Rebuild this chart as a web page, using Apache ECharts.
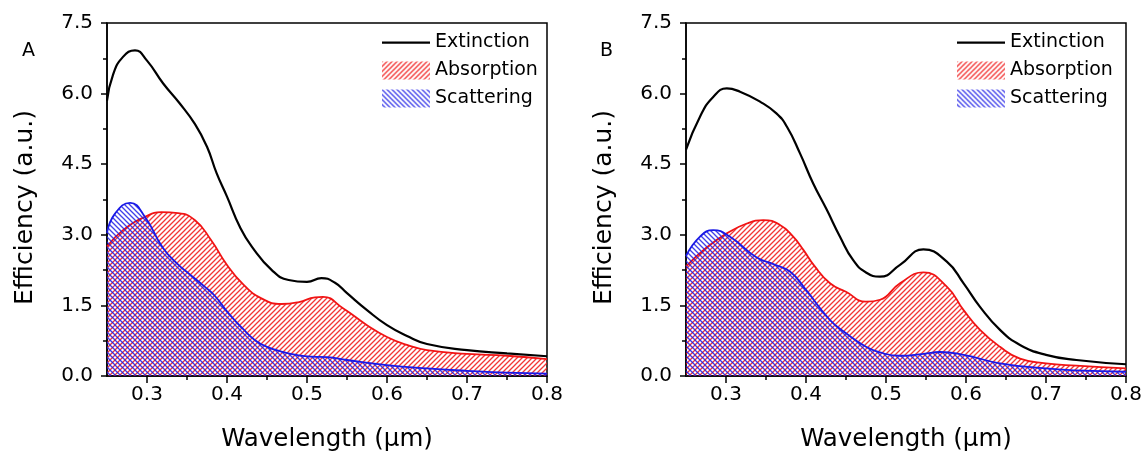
<!DOCTYPE html>
<html>
<head>
<meta charset="utf-8">
<script src="https://cdn.jsdelivr.net/npm/echarts@6/dist/echarts.min.js"></script>
<style>
  html, body { margin: 0; padding: 0; background: #fff; }
  #chart { width: 1145px; height: 457px; }
</style>
</head>
<body>
<div id="chart"></div>
<script>
// ---------- Data ----------
// Panel A
const extA_x = [0.25, 0.2575, 0.27, 0.285, 0.30, 0.32, 0.34, 0.36, 0.375, 0.387, 0.40, 0.416, 0.431, 0.456, 0.477, 0.50, 0.518, 0.535, 0.55, 0.575, 0.60, 0.625, 0.65, 0.70, 0.75, 0.80];
const extA_y = [5.85, 6.40, 6.78, 6.92, 6.70, 6.22, 5.81, 5.35, 4.87, 4.31, 3.81, 3.17, 2.75, 2.25, 2.04, 2.00, 2.08, 1.98, 1.76, 1.40, 1.08, 0.85, 0.68, 0.55, 0.48, 0.42];

const absA_x = [0.25, 0.27, 0.2975, 0.318, 0.339, 0.36, 0.38, 0.40, 0.42, 0.443, 0.468, 0.49, 0.51, 0.52, 0.545, 0.575, 0.60, 0.625, 0.65, 0.70, 0.75, 0.80];
const absA_y = [2.75, 3.10, 3.38, 3.48, 3.46, 3.31, 2.89, 2.36, 1.95, 1.65, 1.53, 1.57, 1.67, 1.68, 1.44, 1.08, 0.83, 0.66, 0.55, 0.47, 0.43, 0.36];

const scaA_x = [0.25, 0.26, 0.279, 0.2975, 0.32, 0.34, 0.352, 0.372, 0.385, 0.402, 0.42, 0.435, 0.45, 0.468, 0.49, 0.506, 0.525, 0.55, 0.60, 0.65, 0.70, 0.75, 0.80];
const scaA_y = [3.04, 3.45, 3.68, 3.38, 2.72, 2.35, 2.18, 1.90, 1.70, 1.33, 1.00, 0.76, 0.62, 0.52, 0.44, 0.41, 0.40, 0.34, 0.23, 0.16, 0.11, 0.07, 0.05];

// Panel B
const extB_x = [0.25, 0.2675, 0.284, 0.301, 0.3175, 0.3425, 0.363, 0.376, 0.3925, 0.409, 0.426, 0.4425, 0.459, 0.475, 0.4925, 0.5175, 0.5467, 0.576, 0.597, 0.6175, 0.6425, 0.6675, 0.70, 0.738, 0.80];
const extB_y = [4.81, 5.51, 5.93, 6.11, 6.04, 5.83, 5.58, 5.30, 4.73, 4.09, 3.53, 2.96, 2.46, 2.20, 2.11, 2.36, 2.69, 2.43, 1.97, 1.47, 0.98, 0.66, 0.45, 0.34, 0.25];

const absB_x = [0.25, 0.275, 0.301, 0.326, 0.3466, 0.3675, 0.384, 0.3967, 0.41, 0.43, 0.45, 0.475, 0.4925, 0.5175, 0.5467, 0.576, 0.597, 0.6175, 0.6425, 0.6675, 0.70, 0.738, 0.80];
const absB_y = [2.33, 2.72, 3.03, 3.24, 3.31, 3.21, 2.96, 2.68, 2.35, 1.97, 1.79, 1.58, 1.62, 1.97, 2.20, 1.90, 1.40, 0.98, 0.62, 0.37, 0.27, 0.22, 0.16];

const scaB_x = [0.25, 0.2675, 0.284, 0.305, 0.3375, 0.36, 0.38, 0.40, 0.43, 0.45, 0.475, 0.4925, 0.5175, 0.5467, 0.5675, 0.597, 0.6425, 0.70, 0.738, 0.80];
const scaB_y = [2.55, 2.96, 3.10, 2.96, 2.53, 2.37, 2.22, 1.83, 1.19, 0.91, 0.62, 0.50, 0.43, 0.47, 0.51, 0.45, 0.27, 0.16, 0.12, 0.09];

// Axis ticks / labels
const xMajorTicks = [0.3, 0.4, 0.5, 0.6, 0.7, 0.8];
const xMinorTicks = [0.35, 0.45, 0.55, 0.65, 0.75];
const seriesNames = ['Extinction', 'Absorption', 'Scattering'];
const panelLabels = ['A', 'B'];
const xTitle = 'Wavelength (μm)';
const yTitle = 'Efficiency (a.u.)';

// ---------- Styling ----------
const FONT = 'DejaVu Sans';
const RED = '#f01414';
const BLUE = '#1a1ae6';
const BLACK = '#000';

function hatch(color, forward) {
  const s = 5;
  const c = document.createElement('canvas');
  c.width = s; c.height = s;
  const g = c.getContext('2d');
  g.strokeStyle = color;
  g.lineWidth = 1.3;
  g.beginPath();
  if (forward) { // "/"
    g.moveTo(0, s); g.lineTo(s, 0);
    g.moveTo(-1, 1); g.lineTo(1, -1);
    g.moveTo(s - 1, s + 1); g.lineTo(s + 1, s - 1);
  } else { // "\"
    g.moveTo(0, 0); g.lineTo(s, s);
    g.moveTo(s - 1, -1); g.lineTo(s + 1, 1);
    g.moveTo(-1, s - 1); g.lineTo(1, s + 1);
  }
  g.stroke();
  return c;
}
const redPattern = { image: hatch('rgba(240,20,20,0.85)', true), repeat: 'repeat' };
const bluePattern = { image: hatch('rgba(30,30,230,0.85)', false), repeat: 'repeat' };

function pairs(xs, ys) { return xs.map((x, i) => [x, ys[i]]); }

const grids = [
  { left: 107, top: 23, width: 440, height: 353 },
  { left: 686, top: 23, width: 440, height: 353 }
];

const xAxes = [], yAxes = [], series = [], legends = [], titles = [];
const panels = [
  { ext: pairs(extA_x, extA_y), abs: pairs(absA_x, absA_y), sca: pairs(scaA_x, scaA_y), legendLeft: 382, labelLeft: 22 },
  { ext: pairs(extB_x, extB_y), abs: pairs(absB_x, absB_y), sca: pairs(scaB_x, scaB_y), legendLeft: 957, labelLeft: 600 }
];

panels.forEach((p, i) => {
  xAxes.push({
    gridIndex: i, type: 'value', min: 0.25, max: 0.8, position: 'bottom',
    axisLine: { show: true, onZero: false, lineStyle: { color: BLACK, width: 1.5 } },
    axisTick: { show: true, customValues: xMajorTicks, length: 7, lineStyle: { color: BLACK, width: 1.5 } },
    axisLabel: { show: true, customValues: xMajorTicks, formatter: v => v.toFixed(1), color: BLACK, fontSize: 20, fontFamily: FONT, margin: 9 },
    splitLine: { show: false },
    name: xTitle, nameLocation: 'middle', nameGap: 51,
    nameTextStyle: { fontFamily: FONT, fontSize: 24.5, color: BLACK }
  });
  xAxes.push({
    gridIndex: i, type: 'value', min: 0.25, max: 0.8, position: 'bottom', offset: 0,
    axisLine: { show: false },
    axisTick: { show: true, customValues: xMinorTicks, length: 4, lineStyle: { color: BLACK, width: 1.5 } },
    axisLabel: { show: false },
    splitLine: { show: false }
  });
  yAxes.push({
    gridIndex: i, type: 'value', min: 0, max: 7.5, interval: 1.5,
    axisLine: { show: true, lineStyle: { color: BLACK, width: 1.5 } },
    axisTick: { show: true, length: 6, lineStyle: { color: BLACK, width: 1.5 } },
    minorTick: { show: true, splitNumber: 2, length: 4, lineStyle: { color: BLACK, width: 1.5 } },
    axisLabel: { formatter: v => v.toFixed(1), color: BLACK, fontSize: 20, fontFamily: FONT, margin: 14 },
    splitLine: { show: false }, minorSplitLine: { show: false },
    name: yTitle, nameLocation: 'middle', nameGap: 69, nameRotate: 90,
    nameTextStyle: { fontFamily: FONT, fontSize: 25, color: BLACK, padding: [0, 16, 0, 0] }
  });
  const xi = i * 2;
  series.push({
    name: 'Absorption', type: 'line', xAxisIndex: xi, yAxisIndex: i, data: p.abs,
    smooth: 0.5, symbol: 'none', lineStyle: { color: RED, width: 1.8 }, itemStyle: { color: RED },
    areaStyle: { color: redPattern, opacity: 1 }, z: 2
  });
  series.push({
    name: 'Scattering', type: 'line', xAxisIndex: xi, yAxisIndex: i, data: p.sca,
    smooth: 0.5, symbol: 'none', lineStyle: { color: BLUE, width: 1.8 }, itemStyle: { color: BLUE },
    areaStyle: { color: bluePattern, opacity: 1 }, z: 3
  });
  series.push({
    name: 'Extinction', type: 'line', xAxisIndex: xi, yAxisIndex: i, data: p.ext,
    smooth: 0.5, symbol: 'none', lineStyle: { color: BLACK, width: 2.2 }, itemStyle: { color: BLACK }, z: 4
  });
  legends.push({
    left: p.legendLeft, top: 33, orient: 'vertical', padding: 0,
    itemWidth: 48, itemHeight: 18, itemGap: 9, selectedMode: false,
    textStyle: { fontFamily: FONT, fontSize: 19, color: BLACK },
    data: [
      { name: seriesNames[0], icon: 'path://M0,0M48,18M0,8H48V10.2H0Z', itemStyle: { color: BLACK, borderWidth: 0 } },
      { name: seriesNames[1], icon: 'rect', itemStyle: { color: redPattern, borderWidth: 0 } },
      { name: seriesNames[2], icon: 'rect', itemStyle: { color: bluePattern, borderWidth: 0 } }
    ]
  });
  titles.push({
    text: panelLabels[i], left: p.labelLeft, top: 42, padding: 0,
    textStyle: { fontFamily: FONT, fontSize: 19, fontWeight: 'normal', color: BLACK }
  });
});

const chart = echarts.init(document.getElementById('chart'), null, { renderer: 'canvas' });
chart.setOption({
  animation: false,
  backgroundColor: '#fff',
  title: titles,
  legend: legends,
  grid: grids.map(g => Object.assign({ show: true, borderColor: BLACK, borderWidth: 1.5, backgroundColor: 'transparent' }, g)),
  xAxis: xAxes,
  yAxis: yAxes,
  series: series
});
</script>
</body>
</html>
